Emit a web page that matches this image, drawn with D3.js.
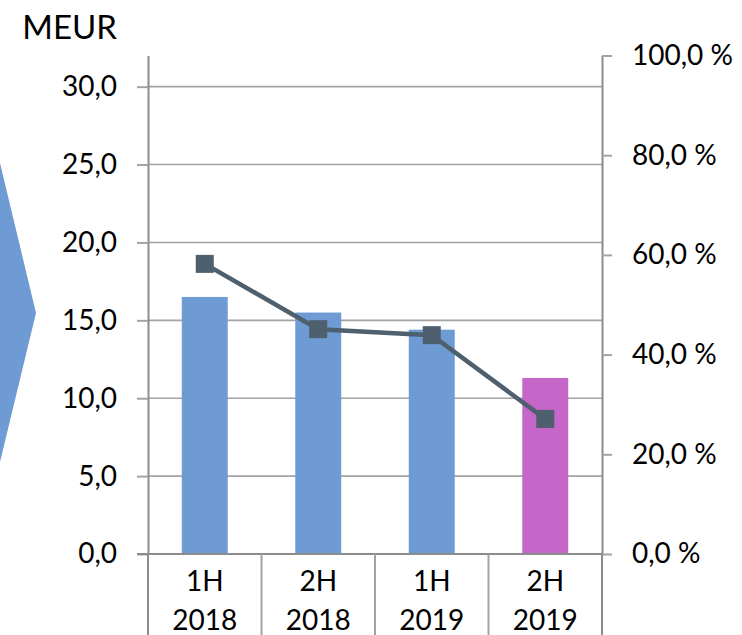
<!DOCTYPE html>
<html>
<head>
<meta charset="utf-8">
<script src="https://cdn.jsdelivr.net/npm/d3@7"></script>
<style>
  body { margin: 0; background: #fff; }
  svg { display: block; font-family: Lato, "Open Sans", sans-serif; }
</style>
</head>
<body>
<svg id="chart" width="742" height="635"></svg>
<script>
/*************************Data********************* */
const halves = ["1H", "2H", "1H", "2H"];
const years = ["2018", "2018", "2019", "2019"];
const categories = halves.map((h, i) => `${h} ${years[i]}`);
const meur = [16.5, 15.5, 14.4, 11.3]; // bars, left axis
const pct = [58.2, 45.1, 43.9, 27.1]; // line, right axis
const barColors = ["#6f9bd4", "#6f9bd4", "#6f9bd4", "#c566c9"];
const leftTicks = [0, 5, 10, 15, 20, 25, 30];
const rightTicks = [0, 20, 40, 60, 80, 100];

/*************************Scales********************* */
const plotLeft = 148;
const plotRight = 602;
const plotTop = 55.5;
const plotBottom = 554;
const svg = d3.select("svg#chart");

const xCat = d3.scaleBand().domain(categories).range([plotLeft, plotRight]);
const xBar = d3.scaleBand().domain(categories).range([plotLeft, plotRight]).paddingInner(0.595).paddingOuter(0.2975);
const yLeft = d3.scaleLinear().domain([0, 32]).range([plotBottom, plotTop]);
const yRight = d3.scaleLinear().domain([0, 100]).range([plotBottom, plotTop]);

const comma = (d) => d3.format(".1f")(d).replace(".", ",");

// decorative arrow on the left edge
svg.append("polygon")
  .attr("points", "0,163 36,313 0,462")
  .attr("fill", "#6f9bd4");

/*************************Gridlines********************* */
svg.append("g").attr("class", "grid")
  .selectAll("line")
  .data(leftTicks.filter((d) => d > 0))
  .join("line")
  .attr("x1", plotLeft).attr("x2", plotRight)
  .attr("y1", (d) => yLeft(d)).attr("y2", (d) => yLeft(d))
  .attr("stroke", "#a3a3a3")
  .attr("stroke-width", 1.6);

/*************************Bars********************* */
svg.append("g").attr("class", "bars")
  .selectAll("rect")
  .data(meur)
  .join("rect")
  .attr("x", (_, i) => xBar(categories[i]))
  .attr("width", xBar.bandwidth())
  .attr("y", (d) => yLeft(d))
  .attr("height", (d) => yLeft(0) - yLeft(d))
  .attr("fill", (_, i) => barColors[i]);

/*************************Axes********************* */
const yAxisL = d3.axisLeft(yLeft).tickValues(leftTicks).tickFormat(comma).tickSize(11).tickSizeOuter(0).tickPadding(20);
const yAxisR = d3.axisRight(yRight).tickValues(rightTicks).tickFormat((d) => comma(d) + " %").tickSize(10).tickSizeOuter(0).tickPadding(20);

const gL = svg.append("g").attr("class", "y-left").attr("transform", `translate(${plotLeft},0)`).call(yAxisL);
const gR = svg.append("g").attr("class", "y-right").attr("transform", `translate(${plotRight},0)`).call(yAxisR);

[gL, gR].forEach((g) => {
  g.attr("font-family", null).attr("font-size", null);
  g.select(".domain").attr("stroke", "#8c8c8c").attr("stroke-width", 2);
  g.selectAll(".tick line").attr("stroke", "#a3a3a3").attr("stroke-width", 2);
  g.selectAll(".tick text").attr("fill", "#000").style("font-size", "28px");
});

// baseline and category separators
svg.append("line")
  .attr("x1", plotLeft - 11).attr("x2", plotRight)
  .attr("y1", plotBottom).attr("y2", plotBottom)
  .attr("stroke", "#8c8c8c").attr("stroke-width", 2);

svg.append("g").attr("class", "x-sep")
  .selectAll("line")
  .data([...categories.map((c) => xCat(c)), plotRight])
  .join("line")
  .attr("x1", (d) => d).attr("x2", (d) => d)
  .attr("y1", plotBottom).attr("y2", 635)
  .attr("stroke", (d, i) => (i === 0 || i === categories.length ? "#8c8c8c" : "#a3a3a3"))
  .attr("stroke-width", 2);

const xLabels = svg.append("g").attr("class", "x-labels")
  .selectAll("text")
  .data(categories)
  .join("text")
  .attr("text-anchor", "middle")
  .attr("fill", "#000")
  .style("font-size", "28px");
xLabels.append("tspan")
  .attr("x", (d) => xCat(d) + xCat.bandwidth() / 2)
  .attr("y", 591)
  .text((_, i) => halves[i]);
xLabels.append("tspan")
  .attr("x", (d) => xCat(d) + xCat.bandwidth() / 2)
  .attr("y", 630)
  .text((_, i) => years[i]);

// unit label
svg.append("text").text("MEUR")
  .attr("x", 117).attr("y", 39)
  .attr("text-anchor", "end")
  .attr("fill", "#000")
  .style("font-size", "33px");

/*************************Line********************* */
const cx = (i) => xCat(categories[i]) + xCat.bandwidth() / 2;
const line = d3.line().x((_, i) => cx(i)).y((d) => yRight(d));

svg.append("path")
  .datum(pct)
  .attr("d", line)
  .attr("fill", "none")
  .attr("stroke", "#4e5f6d")
  .attr("stroke-width", 4.5);

svg.append("g").attr("class", "markers")
  .selectAll("rect")
  .data(pct)
  .join("rect")
  .attr("x", (_, i) => cx(i) - 9)
  .attr("y", (d) => yRight(d) - 9)
  .attr("width", 18)
  .attr("height", 18)
  .attr("fill", "#4e5f6d");
</script>
</body>
</html>
